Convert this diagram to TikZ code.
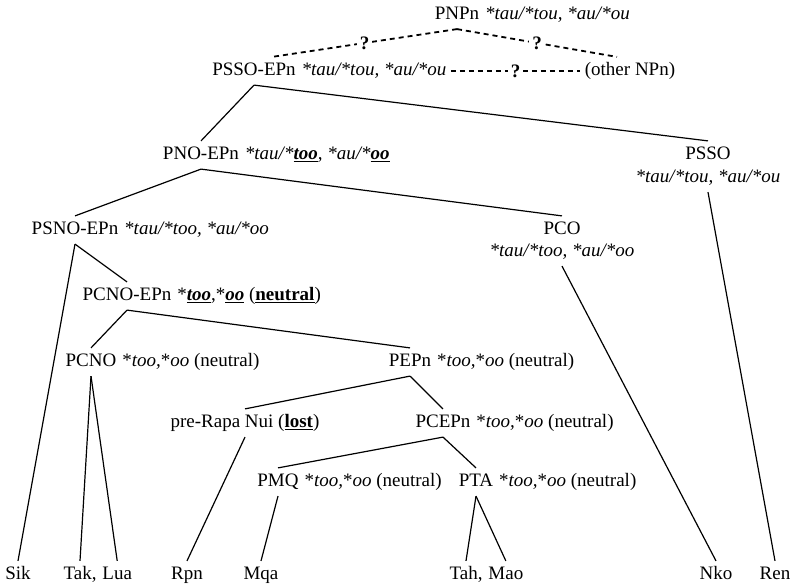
\documentclass[tikz,border=0pt]{standalone}
\usepackage{fontspec}
\setmainfont{Liberation Serif}
\usetikzlibrary{positioning}

\newcommand{\bu}[1]{\underline{\textbf{#1}}}
\tikzset{
  lbl/.style={inner xsep=0pt, inner ysep=5pt, text height=13pt, text depth=4pt},
  form/.style={lbl, right=4.75pt of #1},
  link/.style={line width=1.8pt, dash pattern=on 5pt off 4pt},
  qmark/.style={fill=white, inner sep=3pt, font=\fontsize{19}{22}\selectfont\bfseries}
}

\begin{document}
\begin{tikzpicture}[x=1pt, y=-1pt, font=\fontsize{19}{22}\selectfont, line width=1.2pt]
  \useasboundingbox (0,0) rectangle (793,584);
  % Top: PNPn and its uncertain daughters
  \node[lbl] (pnpn) at (457,15) {PNPn};
  \node[form=pnpn] (pnpnform) {\textit{*tau/*tou, *au/*ou}};
  \node[lbl] (pssoepn) at (254,71) {PSSO-EPn};
  \node[form=pssoepn] (pssoepnform) {\textit{*tau/*tou, *au/*ou}};
  \node[lbl] (other) at (630,71) {(other NPn)};
  \draw[link] (pnpn.south) -- node[qmark] {?} ([xshift=18pt]pssoepn.north);
  \draw[link] (pnpn.south) -- node[qmark] {?} ([xshift=-13pt]other.north);
  \draw[link] ([xshift=4pt]pssoepnform.east) -- node[qmark] {?} ([xshift=-4pt]other.west);
  % Intermediate proto-languages
  \node[lbl] (pnoepn) at (201,155) {PNO-EPn};
  \node[form=pnoepn] (pnoepnform) {\textit{*tau/*}\bu{\textit{too}}\textit{, *au/*}\bu{\textit{oo}}};
  \node[lbl] (psso) at (708,155) {PSSO};
  \node[lbl] (pssoform) at (708,178) {\textit{*tau/*tou, *au/*ou}};
  \node[lbl] (psnoepn) at (75,230) {PSNO-EPn};
  \node[form=psnoepn] (psnoepnform) {\textit{*tau/*too, *au/*oo}};
  \node[lbl] (pco) at (562,230) {PCO};
  \node[lbl] (pcoform) at (562,252) {\textit{*tau/*too, *au/*oo}};
  \node[lbl] (pcnoepn) at (127,296) {PCNO-EPn};
  \node[form=pcnoepn] (pcnoepnform) {*\bu{\textit{too}},*\bu{\textit{oo}} (\bu{neutral})};
  \node[lbl] (pcno) at (91,362) {PCNO};
  \node[form=pcno] (pcnoform) {*\textit{too,}*\textit{oo} (neutral)};
  \node[lbl] (pepn) at (410,362) {PEPn};
  \node[form=pepn] (pepnform) {*\textit{too,}*\textit{oo} (neutral)};
  \node[lbl] (prerapa) at (245,423) {pre-Rapa Nui (\bu{lost})};
  \node[lbl] (pcepn) at (443,423) {PCEPn};
  \node[form=pcepn] (pcepnform) {*\textit{too,}*\textit{oo} (neutral)};
  \node[lbl] (pmq) at (278,482) {PMQ};
  \node[form=pmq] (pmqform) {*\textit{too,}*\textit{oo} (neutral)};
  \node[lbl] (pta) at (476,482) {PTA};
  \node[form=pta] (ptaform) {*\textit{too,}*\textit{oo} (neutral)};
  % Modern languages
  \foreach \n/\x/\t in {sik/18/{Sik}, tak/80/{Tak,}, rpn/187/{Rpn}, mqa/261/{Mqa},
                        tah/466/{Tah,}, nko/716/{Nko}, ren/775/{Ren}}
    \node[lbl] (\n) at (\x,575) {\t};
  \node[lbl, right=4.75pt of tak] (lua) {Lua};
  \node[lbl, right=4.75pt of tah] (mao) {Mao};
  % Tree branches
  \foreach \a/\b in {pssoepn/pnoepn, pssoepn/psso, pnoepn/psnoepn, pnoepn/pco,
                     psnoepn/sik, psnoepn/pcnoepn, pcnoepn/pcno, pcnoepn/pepn,
                     pcno/tak, pcno/lua, pepn/prerapa, pepn/pcepn, prerapa/rpn,
                     pcepn/pmq, pcepn/pta, pmq/mqa, pta/tah, pta/mao,
                     pcoform/nko, pssoform/ren}
    \draw (\a.south) -- (\b.north);
\end{tikzpicture}
\end{document}
